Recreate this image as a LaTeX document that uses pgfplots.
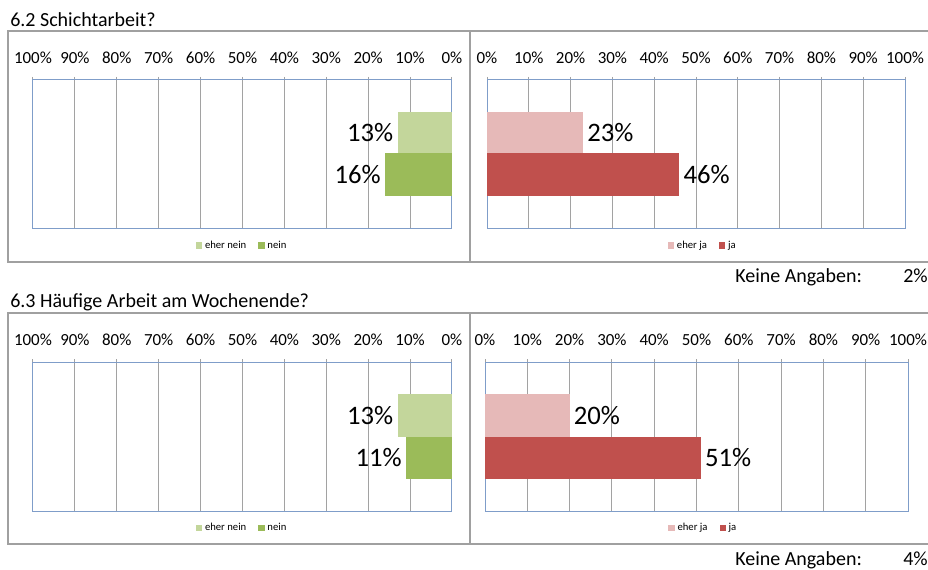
\documentclass[border=0pt]{standalone}
\usepackage{pgfplots}
\pgfplotsset{compat=1.18}
\usepackage{fontspec}
\setmainfont{Carlito}
\definecolor{ehernein}{HTML}{C3D69B}
\definecolor{nein}{HTML}{9BBB59}
\definecolor{eherja}{HTML}{E6B9B8}
\definecolor{ja}{HTML}{C0504D}
\definecolor{axiscol}{HTML}{7F9DC9}
\definecolor{gridcol}{HTML}{A2A2A2}
\definecolor{boxcol}{HTML}{A0A0A0}
\pgfplotsset{
  /pgf/number format/assume math mode=true,
  base/.style={
    scale only axis, height=111.75pt,
    xmin=0, xmax=100, ymin=0, ymax=149,
    xtick={0,10,...,100}, ytick=\empty,
    xtick pos=upper, xticklabel pos=upper,
    tick align=outside, major tick length=2.25pt,
    xmajorgrids, grid style={gridcol, line width=0.75pt},
    tick style={gridcol, line width=0.75pt},
    axis line style={axiscol, line width=0.75pt},
    xticklabel={\pgfmathprintnumber{\tick}\%},
    xticklabel style={font=\fontsize{12.7}{14}\selectfont, anchor=south, yshift=6.5pt},
    point meta=x,
    nodes near coords={\pgfmathprintnumber{\pgfplotspointmeta}\%},
    nodes near coords style={font=\fontsize{20}{23}\selectfont, inner sep=3pt, text=black},
    legend columns=-1,
    legend style={draw=none, fill=none, font=\fontsize{8}{9}\selectfont,
      /tikz/every even column/.append style={column sep=7pt}},
    legend image code/.code={\fill[##1] (0pt,-2.4pt) rectangle (4.8pt,2.4pt);},
  },
  leftax/.style={base, width=314.25pt, x dir=reverse,
    nodes near coords style={anchor=east}},
  rightax/.style={base,
    nodes near coords style={anchor=west}},
}
\begin{document}
\begin{tikzpicture}
\useasboundingbox (0pt,0pt) rectangle (696pt,-427.5pt);
\fill[white] (0pt,0pt) rectangle (696pt,-427.5pt);
\begin{scope}[x=0.75pt,y=-0.75pt]
  % frames
  \draw[boxcol, line width=1.1pt] (8,31) rectangle (470,262);
  \draw[boxcol, line width=1.1pt] (470,31) rectangle (940,262);
  \draw[boxcol, line width=1.1pt] (8,313) rectangle (470,544);
  \draw[boxcol, line width=1.1pt] (470,313) rectangle (940,544);
  % titles
  \node[anchor=base west, inner sep=0pt, font=\fontsize{15}{18}\selectfont] at (10,27) {6.2 Schichtarbeit?};
  \node[anchor=base west, inner sep=0pt, font=\fontsize{15}{18}\selectfont] at (10,307) {6.3 Häufige Arbeit am Wochenende?};
  \node[anchor=base west, inner sep=0pt, font=\fontsize{15}{18}\selectfont] at (735,283) {Keine Angaben:};
  \node[anchor=base east, inner sep=0pt, font=\fontsize{15}{18}\selectfont] at (928,283) {2\%};
  \node[anchor=base west, inner sep=0pt, font=\fontsize{15}{18}\selectfont] at (735,565) {Keine Angaben:};
  \node[anchor=base east, inner sep=0pt, font=\fontsize{15}{18}\selectfont] at (928,565) {4\%};
\end{scope}

% Panel 6.2 left
\begin{axis}[leftax, at={(24.75pt,-171.75pt)}, anchor=south west,
  legend style={at={(0.5,-0.112)}, anchor=center}]
  \addplot[xbar, bar width=42, bar shift=0pt, fill=ehernein, draw=none] coordinates {(13,96)};
  \addplot[xbar, bar width=43, bar shift=0pt, fill=nein, draw=none] coordinates {(16,54)};
  \legend{eher nein, nein}
\end{axis}
% Panel 6.2 right
\begin{axis}[rightax, width=313.5pt, at={(365.25pt,-171.75pt)}, anchor=south west,
  legend style={at={(0.517,-0.112)}, anchor=center}]
  \addplot[xbar, bar width=42, bar shift=0pt, fill=eherja, draw=none] coordinates {(23,96)};
  \addplot[xbar, bar width=43, bar shift=0pt, fill=ja, draw=none] coordinates {(46,54)};
  \legend{eher ja, ja}
\end{axis}
% Panel 6.3 left
\begin{axis}[leftax, at={(24.75pt,-383.25pt)}, anchor=south west,
  legend style={at={(0.5,-0.114)}, anchor=center}]
  \addplot[xbar, bar width=43, bar shift=0pt, fill=ehernein, draw=none] coordinates {(13,95.5)};
  \addplot[xbar, bar width=42, bar shift=0pt, fill=nein, draw=none] coordinates {(11,53)};
  \legend{eher nein, nein}
\end{axis}
% Panel 6.3 right
\begin{axis}[rightax, width=317.25pt, at={(363.75pt,-383.25pt)}, anchor=south west,
  legend style={at={(0.517,-0.114)}, anchor=center}]
  \addplot[xbar, bar width=43, bar shift=0pt, fill=eherja, draw=none] coordinates {(20,95.5)};
  \addplot[xbar, bar width=42, bar shift=0pt, fill=ja, draw=none] coordinates {(51,53)};
  \legend{eher ja, ja}
\end{axis}
\end{tikzpicture}
\end{document}
